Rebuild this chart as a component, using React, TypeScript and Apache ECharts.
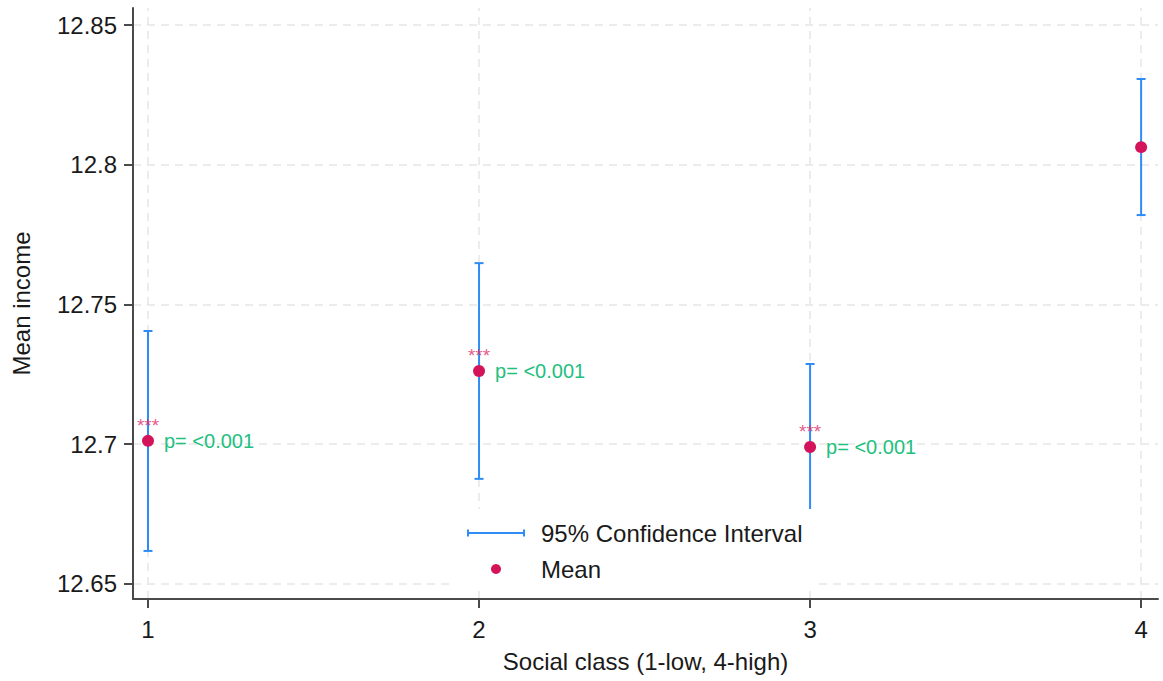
import React, { useEffect, useRef } from "react";
import * as echarts from "echarts";

const xTicks = [1, 2, 3, 4];
const yTicks = [12.65, 12.7, 12.75, 12.8, 12.85];
const meanValues = [12.7012, 12.7262, 12.699, 12.8063];
const ciLower = [12.6618, 12.6876, 12.6693, 12.782];
const ciUpper = [12.7405, 12.7648, 12.7287, 12.8307];
const pLabels = ["p= <0.001", "p= <0.001", "p= <0.001", ""];
const starLabels = ["***", "***", "***", ""];

const CI_NAME = "95% Confidence Interval";
const MEAN_NAME = "Mean";
const BLUE = "#2f8cf7";
const RED = "#d4145a";
const GREEN = "#21c07f";
const FONT = "Arial, 'Liberation Sans', Helvetica, sans-serif";

export default function App() {
  const ref = useRef<HTMLDivElement>(null);
  useEffect(() => {
    if (!ref.current) return;
    const chart = echarts.init(ref.current, undefined, { renderer: "svg" });
    const gridLineStyle = { color: "#e6e6e6", width: 1.5, type: [8, 6] as any };
    const ciData = xTicks.map((x, i) => [x, ciLower[i], ciUpper[i]]);
    const meanData = xTicks.map((x, i) => [x, meanValues[i]]);
    chart.setOption({
      animation: false,
      textStyle: { fontFamily: FONT },
      grid: { left: 133, right: 5, top: 8, bottom: 82, containLabel: false },
      xAxis: {
        type: "value",
        min: 0.9547,
        max: 4.051,
        name: "Social class (1-low, 4-high)",
        nameLocation: "middle",
        nameGap: 50,
        nameTextStyle: { fontSize: 24, color: "#1a1a1a", fontFamily: FONT },
        axisLine: { show: true, onZero: false, lineStyle: { color: "#4a4a4a", width: 2 } },
        axisTick: { show: true, length: 9, customValues: xTicks, lineStyle: { color: "#4a4a4a", width: 2 } },
        axisLabel: { customValues: xTicks, fontSize: 24, color: "#1a1a1a", margin: 18, fontFamily: FONT },
        splitLine: { show: false },
      },
      yAxis: {
        type: "value",
        min: 12.6446,
        max: 12.8561,
        name: "Mean income",
        nameLocation: "middle",
        nameGap: 100,
        nameRotate: 90,
        nameTextStyle: { fontSize: 24, color: "#1a1a1a", fontFamily: FONT },
        axisLine: { show: true, onZero: false, lineStyle: { color: "#4a4a4a", width: 2 } },
        axisTick: { show: true, length: 9, customValues: yTicks, lineStyle: { color: "#4a4a4a", width: 2 } },
        axisLabel: { customValues: yTicks, fontSize: 24, color: "#1a1a1a", margin: 16, fontFamily: FONT },
        splitLine: { show: false },
      },
      legend: {
        orient: "vertical",
        left: 452,
        top: 509,
        padding: [12, 15, 9, 15],
        itemGap: 12,
        itemWidth: 58,
        itemHeight: 10,
        backgroundColor: "#ffffff",
        z: 10,
        textStyle: { fontSize: 24, color: "#1a1a1a", fontFamily: FONT, padding: [0, 0, 0, 11] },
        data: [
          { name: CI_NAME, icon: "path://M0,0h2v7h-2z M0,2.5h58v2h-58z M56,0h2v7h-2z" },
          { name: MEAN_NAME, icon: "circle" },
        ],
      },
      series: [
        {
          name: "grid",
          type: "line",
          data: [],
          z: 0,
          silent: true,
          markLine: {
            silent: true,
            z: 0,
            symbol: "none",
            label: { show: false },
            lineStyle: gridLineStyle,
            emphasis: { disabled: true },
            data: [
              ...xTicks.map((v) => ({ xAxis: v })),
              ...yTicks.map((v) => ({ yAxis: v })),
            ],
          },
        },
        {
          name: CI_NAME,
          type: "custom",
          z: 3,
          itemStyle: { color: BLUE },
          encode: { x: 0, y: [1, 2] },
          data: ciData,
          renderItem: (params: any, api: any) => {
            const x = api.value(0);
            const lo = api.coord([x, api.value(1)]);
            const hi = api.coord([x, api.value(2)]);
            const hw = 4.5;
            const style = { stroke: BLUE, lineWidth: 2 };
            return {
              type: "group",
              children: [
                { type: "line", shape: { x1: lo[0], y1: lo[1], x2: hi[0], y2: hi[1] }, style },
                { type: "line", shape: { x1: hi[0] - hw, y1: hi[1], x2: hi[0] + hw, y2: hi[1] }, style },
                { type: "line", shape: { x1: lo[0] - hw, y1: lo[1], x2: lo[0] + hw, y2: lo[1] }, style },
              ],
            };
          },
        },
        {
          name: MEAN_NAME,
          type: "scatter",
          z: 4,
          symbol: "circle",
          symbolSize: 12,
          itemStyle: { color: RED, opacity: 1 },
          data: meanData,
          label: {
            show: true,
            position: "right",
            distance: 10,
            color: GREEN,
            fontSize: 20,
            fontFamily: FONT,
            formatter: (p: any) => pLabels[p.dataIndex],
          },
        },
        {
          name: "stars",
          type: "scatter",
          z: 5,
          symbol: "circle",
          symbolSize: 12,
          silent: true,
          itemStyle: { color: "rgba(0,0,0,0)" },
          data: meanData,
          label: {
            show: true,
            position: "top",
            distance: 0,
            color: "#dc2f68",
            fontSize: 19,
            fontFamily: FONT,
            formatter: (p: any) => starLabels[p.dataIndex],
          },
        },
      ],
    });
    return () => chart.dispose();
  }, []);
  return (
    <div
      ref={ref}
      style={{ position: "fixed", left: 0, top: 0, width: 1163, height: 681, background: "#fff" }}
    />
  );
}
